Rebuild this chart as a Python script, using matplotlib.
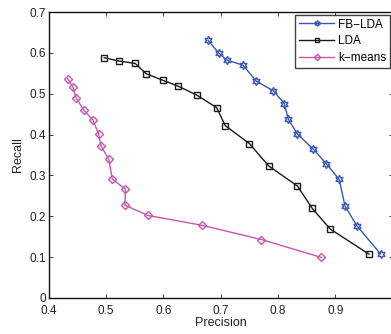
import matplotlib
matplotlib.use("Agg")
import matplotlib.pyplot as plt
import numpy as np

fb_x = [0.678, 0.697, 0.711, 0.739, 0.762, 0.792, 0.811, 0.818, 0.834, 0.862, 0.884, 0.907, 0.917, 0.938, 0.979]
fb_y = [0.631, 0.599, 0.582, 0.570, 0.531, 0.507, 0.476, 0.438, 0.401, 0.364, 0.329, 0.290, 0.225, 0.176, 0.108]

lda_x = [0.497, 0.523, 0.551, 0.570, 0.599, 0.625, 0.658, 0.693, 0.708, 0.750, 0.784, 0.834, 0.860, 0.891, 0.959]
lda_y = [0.588, 0.580, 0.574, 0.549, 0.533, 0.519, 0.497, 0.466, 0.422, 0.378, 0.323, 0.274, 0.219, 0.169, 0.107]

km_x = [0.433, 0.442, 0.448, 0.461, 0.477, 0.487, 0.491, 0.505, 0.511, 0.534, 0.533, 0.573, 0.667, 0.771, 0.876]
km_y = [0.537, 0.517, 0.490, 0.460, 0.436, 0.402, 0.373, 0.339, 0.291, 0.266, 0.227, 0.202, 0.178, 0.143, 0.099]

x_ticks = [0.4, 0.5, 0.6, 0.7, 0.8, 0.9, 1.0]
x_tick_labels = ["0.4", "0.5", "0.6", "0.7", "0.8", "0.9", ""]
y_ticks = [0, 0.1, 0.2, 0.3, 0.4, 0.5, 0.6, 0.7]
y_tick_labels = ["0", "0.1", "0.2", "0.3", "0.4", "0.5", "0.6", "0.7"]

plt.rcParams['font.family'] = ['Liberation Sans', 'DejaVu Sans']

fig = plt.figure(figsize=(3.91, 3.34), dpi=100)
ax = fig.add_axes([0.1245, 0.108, 0.8795, 0.856])

ax.plot(fb_x, fb_y, color='#3a57b5', lw=1.0, marker=(6, 1, 0), ms=6,
        mfc='none', mec='#3a57b5', mew=1.0, label='FB\u2212LDA')
ax.plot(lda_x, lda_y, color='#1a1a1a', lw=1.0, marker='s', ms=4.5,
        mfc='none', mec='#1a1a1a', mew=1.0, label='LDA')
ax.plot(km_x, km_y, color='#c855b0', lw=1.0, marker='D', ms=4.5,
        mfc='none', mec='#c855b0', mew=1.0, label='k\u2212means')

ax.set_xlim(0.4, 1.0)
ax.set_ylim(0, 0.7)
ax.set_xticks(x_ticks)
ax.set_xticklabels(x_tick_labels)
ax.set_yticks(y_ticks)
ax.set_yticklabels(y_tick_labels)
ax.tick_params(direction='in', top=True, right=True, labelsize=8.5,
               length=3, width=0.6, colors='#222222', pad=2)
ax.tick_params(axis='x', pad=5)
for s in ax.spines.values():
    s.set_linewidth(1.0)
    s.set_color('#111111')

ax.set_xlabel('Precision', fontsize=9, labelpad=0, color='#222222')
ax.set_ylabel('Recall', fontsize=9, labelpad=4, color='#222222')

leg = ax.legend(loc='upper right', fontsize=8.5, frameon=True, fancybox=False,
                edgecolor='#111111', borderpad=0.3, handlelength=3.0,
                labelspacing=0.4, handletextpad=0.3, borderaxespad=0.25,
                markerscale=0.7)
leg.get_frame().set_linewidth(1.0)

fig.savefig('out.png', dpi=100)
